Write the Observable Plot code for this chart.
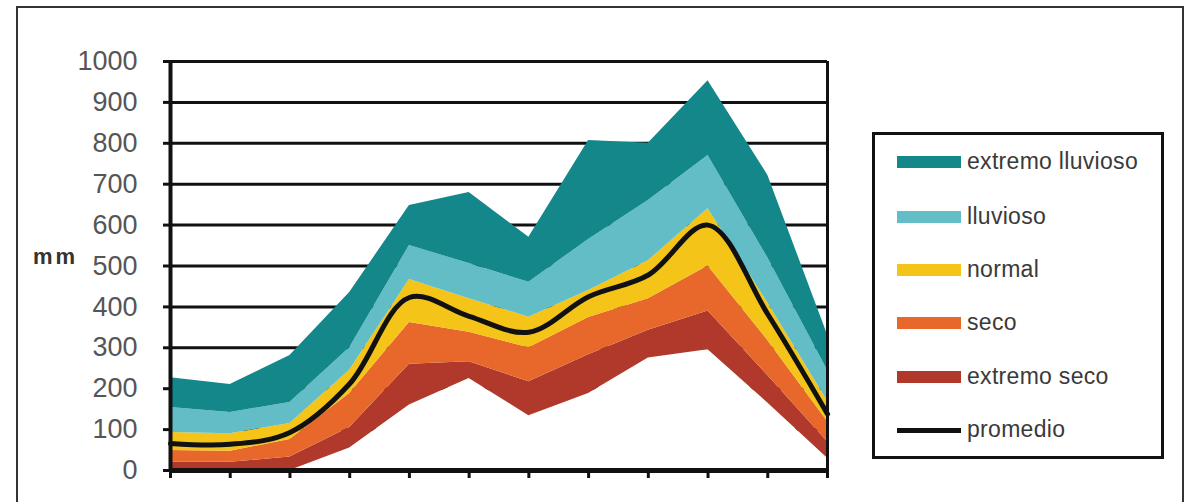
<!DOCTYPE html>
<html>
<head>
<meta charset="utf-8">
<script src="https://cdn.jsdelivr.net/npm/d3@7"></script>
<script src="https://cdn.jsdelivr.net/npm/@observablehq/plot@0.6"></script>
<style>
  html, body { margin: 0; padding: 0; background: #fff; }
  body { width: 1190px; height: 502px; overflow: hidden; position: relative;
         font-family: "Liberation Sans", Arial, sans-serif; }
  #frame { position: absolute; left: 16px; top: 6px; width: 1168px; height: 520px;
           border: 2px solid #333; box-sizing: border-box; }
  #chart { position: absolute; left: 0; top: 0; }
  #ylab { position: absolute; left: 33px; top: 244px; font-size: 22px; font-weight: bold;
          color: #333; letter-spacing: 3px; line-height: 26px; }
  #legend { position: absolute; left: 872px; top: 132px; width: 292px; height: 327px;
            border: 3px solid #111; box-sizing: border-box; background: #fff; }
  .sw { position: absolute; left: 897px; width: 64px; height: 12px; }
  .lab { position: absolute; left: 967px; font-size: 23px; color: #3a3a3a; letter-spacing: 0.3px;
         line-height: 28px; white-space: nowrap; }
</style>
</head>
<body>
<div id="frame"></div>
<div id="chart"></div>
<div id="ylab">mm</div>
<div id="legend"></div>
<script>
// Months (x categories)
const months = ["ene", "feb", "mar", "abr", "may", "jun", "jul", "ago", "sep", "oct", "nov", "dic"];
// Band boundaries (mm)
const base      = [0, 0, 0, 55, 160, 225, 134, 188, 275, 295, 165, 30];   // lower edge of "extremo seco"
const extSeco   = [20, 20, 33, 105, 260, 266, 217, 283, 343, 390, 232, 70];
const seco      = [49, 47, 76, 188, 362, 338, 300, 374, 420, 500, 318, 120];
const normal    = [93, 90, 115, 245, 467, 420, 375, 440, 513, 640, 410, 170];
const lluvioso  = [154, 142, 166, 300, 550, 506, 460, 565, 660, 770, 520, 245];
const extLluv   = [227, 210, 281, 435, 648, 680, 570, 807, 800, 953, 722, 332];
const promedio  = [66, 64, 93, 212, 423, 377, 338, 425, 478, 600, 382, 138];
const yTicks = [0, 100, 200, 300, 400, 500, 600, 700, 800, 900, 1000];
const seriesNames = ["extremo lluvioso", "lluvioso", "normal", "seco", "extremo seco", "promedio"];
const seriesColors = ["#13878a", "#63bdc6", "#f4c419", "#e8682c", "#b0392b", "#111111"];

const rows = months.map((m, i) => ({
  i, m, base: base[i], es: extSeco[i], s: seco[i], n: normal[i],
  l: lluvioso[i], el: extLluv[i], p: promedio[i]
}));

const band = (lo, hi, color) => Plot.areaY(rows, { x: "i", y1: lo, y2: hi, fill: color });

const chart = Plot.plot({
  width: 1190, height: 502,
  marginLeft: 170, marginRight: 363, marginTop: 61, marginBottom: 32,
  style: { fontFamily: "'Liberation Sans', Arial, sans-serif", background: "transparent" },
  x: { type: "linear", domain: [0, months.length - 1], axis: null },
  y: { domain: [0, 1000], axis: null },
  marks: [
    Plot.ruleY(yTicks.filter(d => d > 0), { stroke: "#111", strokeWidth: 3 }),
    band(0, "base", "#ffffff"),
    band("base", "es", seriesColors[4]),
    band("es", "s", seriesColors[3]),
    band("s", "n", seriesColors[2]),
    band("n", "l", seriesColors[1]),
    band("l", "el", seriesColors[0]),
    Plot.lineY(rows, { x: "i", y: "p", stroke: "#111", strokeWidth: 5, curve: "catmull-rom" }),
    Plot.ruleX([months.length - 1], { stroke: "#111", strokeWidth: 3 }),
    Plot.ruleX([0], { stroke: "#111", strokeWidth: 4 }),
    Plot.ruleY([0], { stroke: "#111", strokeWidth: 5 }),
    Plot.axisY({ ticks: yTicks, tickFormat: d => String(d), tickSize: 7, tickPadding: 26, fontSize: 27,
                 stroke: "#111", strokeWidth: 3, fill: "#555", label: null }),
    Plot.axisX({ ticks: d3.range(months.length), tickFormat: () => "", tickSize: 8, stroke: "#111", strokeWidth: 3, label: null })
  ]
});
document.getElementById("chart").appendChild(chart);

// Legend
const rowY = [162, 217, 270, 323, 377, 430];
seriesNames.forEach((name, k) => {
  const sw = document.createElement("div");
  sw.className = "sw";
  const h = k === 5 ? 5 : 12;
  sw.style.top = (rowY[k] - h / 2) + "px";
  sw.style.height = h + "px";
  sw.style.background = seriesColors[k];
  document.body.appendChild(sw);
  const lb = document.createElement("div");
  lb.className = "lab";
  lb.style.top = (rowY[k] - 15) + "px";
  lb.textContent = name;
  document.body.appendChild(lb);
});
</script>
</body>
</html>
